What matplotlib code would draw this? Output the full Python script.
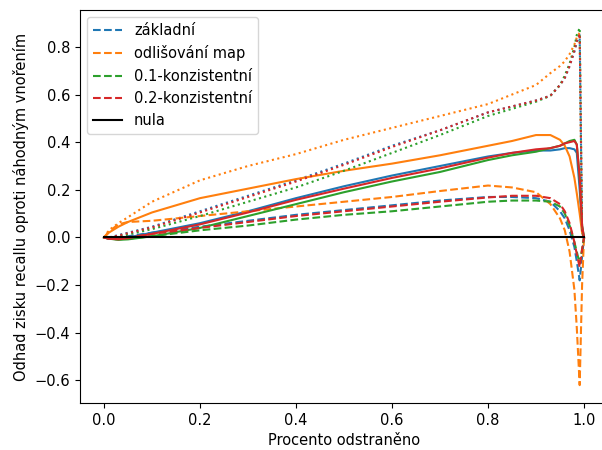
import matplotlib
matplotlib.use("Agg")
import matplotlib.pyplot as plt

plt.rcParams["font.size"] = 10.5

x = [0, 0.01, 0.03, 0.05, 0.1, 0.2, 0.3, 0.4, 0.5, 0.6, 0.7, 0.8, 0.85,
     0.9, 0.93, 0.95, 0.96, 0.97, 0.98, 0.985, 0.991, 0.996, 1.0]

methods = ["základní", "odlišování map", "0.1-konzistentní", "0.2-konzistentní"]
colors = ["#1f77b4", "#ff7f0e", "#2ca02c", "#d62728"]

# dashed series
zakladni_dash = [0, -0.003, 0.0, 0.005, 0.02, 0.045, 0.07, 0.095, 0.115, 0.135, 0.155, 0.17, 0.17,
                 0.165, 0.15, 0.11, 0.08, 0.03, -0.04, -0.1, -0.18, -0.08, 0]
odlis_dash = [0, 0.025, 0.055, 0.065, 0.07, 0.09, 0.11, 0.13, 0.15, 0.17, 0.195, 0.218, 0.21,
              0.19, 0.14, 0.08, 0.03, -0.06, -0.22, -0.38, -0.62, -0.2, 0]
k01_dash = [0, -0.005, -0.008, -0.005, 0.005, 0.03, 0.05, 0.075, 0.095, 0.11, 0.13, 0.15, 0.155,
            0.155, 0.15, 0.13, 0.1, 0.05, -0.02, -0.06, -0.11, -0.05, 0]
k02_dash = [0, -0.005, -0.005, 0.0, 0.015, 0.04, 0.065, 0.09, 0.11, 0.13, 0.15, 0.168, 0.175,
            0.175, 0.165, 0.14, 0.11, 0.06, -0.02, -0.07, -0.125, -0.05, 0]

# solid series
zakladni_solid = [0, -0.005, -0.005, 0.0, 0.02, 0.06, 0.11, 0.165, 0.215, 0.26, 0.30, 0.34, 0.355,
                  0.365, 0.365, 0.37, 0.375, 0.375, 0.37, 0.355, 0.2, 0.04, 0]
odlis_solid = [0, 0.02, 0.045, 0.065, 0.105, 0.165, 0.205, 0.245, 0.28, 0.31, 0.345, 0.385, 0.405,
               0.43, 0.43, 0.41, 0.385, 0.34, 0.25, 0.185, 0.1, 0.02, 0]
k01_solid = [0, -0.005, -0.01, -0.008, 0.005, 0.04, 0.09, 0.14, 0.19, 0.235, 0.275, 0.325, 0.345,
             0.36, 0.375, 0.385, 0.395, 0.405, 0.41, 0.39, 0.25, 0.05, 0]
k02_solid = [0, -0.005, -0.008, -0.003, 0.015, 0.055, 0.105, 0.158, 0.205, 0.25, 0.29, 0.335, 0.355,
             0.37, 0.375, 0.385, 0.395, 0.40, 0.405, 0.39, 0.25, 0.05, 0]

# dotted series
zakladni_dot = [0, 0.0, 0.01, 0.02, 0.045, 0.11, 0.175, 0.24, 0.31, 0.385, 0.45, 0.525, 0.55,
                0.575, 0.595, 0.64, 0.67, 0.72, 0.78, 0.82, 0.85, 0.02, 0]
odlis_dot = [0, 0.03, 0.06, 0.085, 0.15, 0.24, 0.30, 0.35, 0.41, 0.46, 0.51, 0.56, 0.60,
             0.64, 0.69, 0.72, 0.74, 0.77, 0.81, 0.84, 0.86, 0.02, 0]
k01_dot = [0, 0.0, 0.005, 0.012, 0.035, 0.09, 0.15, 0.21, 0.28, 0.355, 0.43, 0.51, 0.54,
           0.57, 0.595, 0.64, 0.68, 0.73, 0.80, 0.85, 0.88, 0.02, 0]
k02_dot = [0, 0.0, 0.008, 0.018, 0.042, 0.105, 0.17, 0.235, 0.305, 0.38, 0.45, 0.525, 0.55,
           0.575, 0.595, 0.64, 0.67, 0.72, 0.785, 0.825, 0.855, 0.02, 0]

dash_series = [zakladni_dash, odlis_dash, k01_dash, k02_dash]
solid_series = [zakladni_solid, odlis_solid, k01_solid, k02_solid]
dot_series = [zakladni_dot, odlis_dot, k01_dot, k02_dot]

fig = plt.figure(figsize=(6.02, 4.5), dpi=100)
ax = fig.add_axes([80 / 602, 1 - 403 / 450, 528 / 602, 393 / 450])

for name, c, d, s, t in zip(methods, colors, dash_series, solid_series, dot_series):
    ax.plot(x, d, linestyle="--", color=c, label=name)
    ax.plot(x, s, linestyle="-", color=c)
    ax.plot(x, t, linestyle=":", color=c)

ax.plot([0, 1], [0, 0], color="black", label="nula")

ax.set_xlabel("Procento odstraněno")
ax.set_ylabel("Odhad zisku recallu oproti náhodným vnořením")
ax.legend(loc="upper left")

fig.savefig("out.png", dpi=100)
